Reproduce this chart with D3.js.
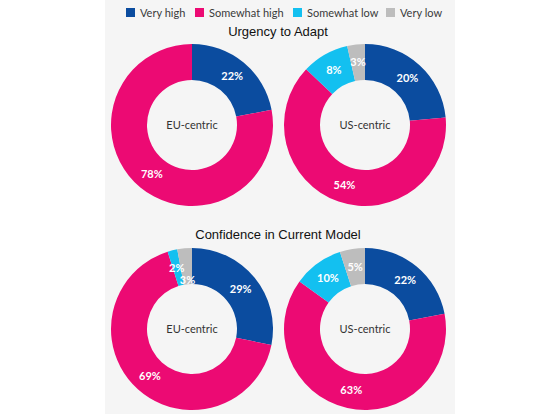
<!DOCTYPE html>
<html>
<head>
<meta charset="utf-8">
<script src="https://cdn.jsdelivr.net/npm/d3@7"></script>
<style>
  body { margin: 0; background: #fff; }
  svg { display: block; }
</style>
</head>
<body>
<svg id="chart" width="560" height="414"></svg>
<script>
// categories and colours
var categories = ["Very high", "Somewhat high", "Somewhat low", "Very low"];
var colors = ["#0b4c9f", "#ec0a73", "#13c0f0", "#bdbdbd"];

// chart titles and donut labels
var titles = ["Urgency to Adapt", "Confidence in Current Model"];
var regions = ["EU-centric", "US-centric"];

// series values (percent, in category order)
var urgencyEU = [22, 78];
var urgencyUS = [20, 54, 8, 3];
var confidenceEU = [29, 69, 2, 3];
var confidenceUS = [22, 63, 10, 5];

var W = 560, H = 414;
var svg = d3.select("#chart");

// grey panel behind the charts
svg.append("rect")
    .attr("x", 105).attr("y", 0)
    .attr("width", 350).attr("height", H)
    .attr("fill", "#f5f5f5");

// legend
var legendXs = [126, 195, 293, 386];
var li = svg.append("g").selectAll("g")
    .data(categories)
  .enter().append("g")
    .attr("transform", function(d, i) { return "translate(" + legendXs[i] + ",8)"; });
li.append("rect")
    .attr("width", 9).attr("height", 9)
    .attr("fill", function(d, i) { return colors[i]; });
li.append("text")
    .attr("x", 14).attr("y", 8.5)
    .style("font-family", "Lato, 'Open Sans', sans-serif")
    .style("font-size", "11px")
    .style("fill", "#3a3a3a")
    .text(function(d) { return d; });

// donut sizes
var outerR = 81, innerR = 45;

var pie = d3.pie().sort(null).value(function(d) { return d.value; });
var arc = d3.arc().innerRadius(innerR).outerRadius(outerR);
var labelArc = d3.arc().innerRadius(innerR).outerRadius(outerR);
var tightArc = d3.arc().innerRadius(49).outerRadius(49);

var rows = [
  { title: titles[0], titleY: 36, cy: 125, series: [urgencyEU, urgencyUS] },
  { title: titles[1], titleY: 239, cy: 329, series: [confidenceEU, confidenceUS] }
];
var colCx = [192, 365];

rows.forEach(function(row) {
  svg.append("text")
      .attr("x", 278).attr("y", row.titleY)
      .attr("text-anchor", "middle")
      .style("font-family", "'Liberation Sans', Arial, sans-serif")
      .style("font-size", "13px")
      .style("fill", "#111")
      .text(row.title);

  row.series.forEach(function(vals, j) {
    var g = svg.append("g")
        .attr("transform", "translate(" + colCx[j] + "," + row.cy + ")");

    var data = vals.map(function(v, i) { return { cat: categories[i], value: v, i: i }; });
    var arcs = pie(data);

    g.selectAll("path")
        .data(arcs)
      .enter().append("path")
        .attr("d", arc)
        .attr("fill", function(d) { return colors[d.data.i]; });

    g.selectAll("text.val")
        .data(arcs)
      .enter().append("text")
        .attr("class", "val")
        .attr("transform", function(d, k) {
          // two tiny neighbouring slices: pull the second label inward
          var crowded = k > 0 && d.data.value <= 3 && arcs[k - 1].data.value <= 3;
          var c = crowded ? tightArc.centroid(d) : labelArc.centroid(d);
          return "translate(" + c[0] + "," + c[1] + ")";
        })
        .attr("text-anchor", "middle")
        .attr("dy", "0.36em")
        .style("font-family", "Lato, 'Open Sans', sans-serif")
        .style("font-weight", "700")
        .style("font-size", "11px")
        .style("fill", "#fff")
        .text(function(d) { return d.data.value + "%"; });

    g.append("text")
        .attr("text-anchor", "middle")
        .attr("dy", "0.36em")
        .style("font-family", "Lato, 'Open Sans', sans-serif")
        .style("font-size", "11px")
        .style("fill", "#333")
        .text(regions[j]);
  });
});
</script>
</body>
</html>
